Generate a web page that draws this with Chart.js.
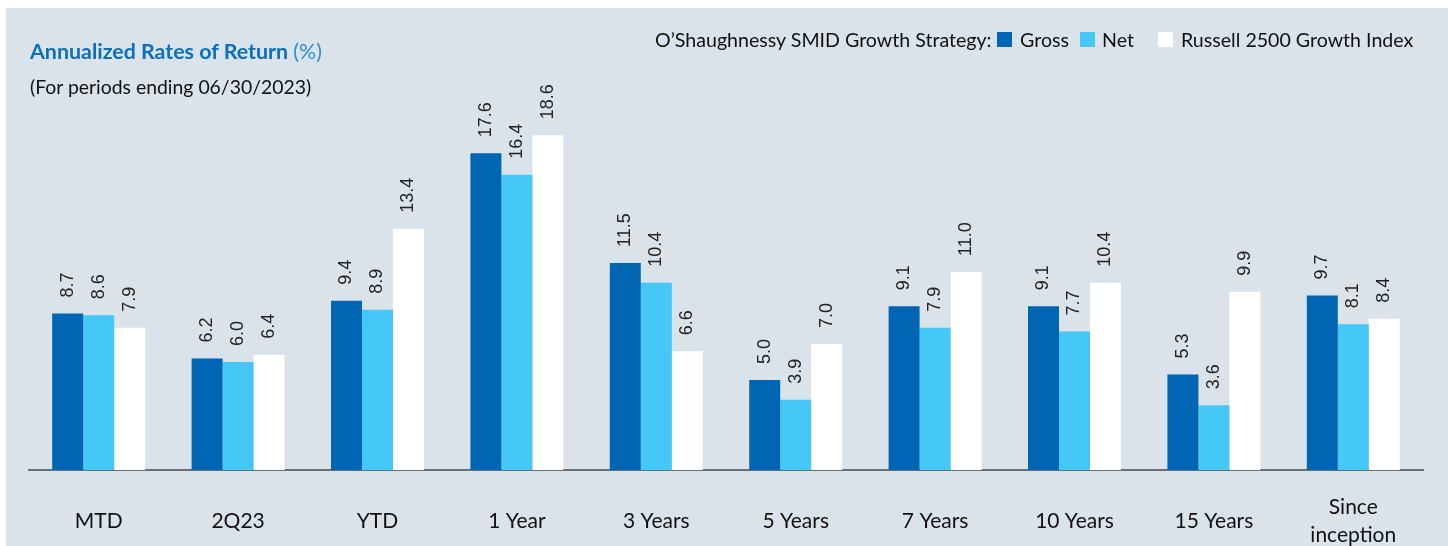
<!DOCTYPE html>
<html>
<head>
<meta charset="utf-8">
<script src="https://cdn.jsdelivr.net/npm/chart.js@4"></script>
<style>
  html, body { margin: 0; padding: 0; background: #fff; }
  body { width: 1448px; height: 546px; overflow: hidden; position: relative; font-family: Lato, "Noto Sans", sans-serif; }
  #panel { position: absolute; left: 6px; top: 8px; right: 0; bottom: 0; background: #dae2ea; }
  #chart { position: absolute; left: 0; top: 0; }
  .txt { position: absolute; white-space: nowrap; line-height: 24px; height: 24px; color: #111; }
  .title { left: 30px; top: 39px; font-size: 21.4px; font-weight: bold; color: #0a6fbf; }
  .title span { font-weight: normal; color: #2a8fd6; }
  .sub { left: 30px; top: 75px; font-size: 19.4px; }
  .leg { top: 28px; font-size: 19.6px; }
  .sw { position: absolute; top: 32px; width: 15px; height: 15px; }
</style>
</head>
<body>
<div id="panel"></div>
<canvas id="chart" width="1448" height="546"></canvas>
<div class="txt title">Annualized Rates of Return <span>(%)</span></div>
<div class="txt sub">(For periods ending 06/30/2023)</div>
<div class="txt leg" style="left:655px">O’Shaughnessy SMID Growth Strategy:</div>
<div class="sw" style="left:997px; background:#0066b3"></div>
<div class="txt leg" style="left:1020px">Gross</div>
<div class="sw" style="left:1080px; background:#45c8f5"></div>
<div class="txt leg" style="left:1102px">Net</div>
<div class="sw" style="left:1158px; background:#ffffff"></div>
<div class="txt leg" style="left:1181px">Russell 2500 Growth Index</div>
<script>
(function() {
  'use strict';

  // periods on the x axis
  const periods = [['MTD'], ['2Q23'], ['YTD'], ['1 Year'], ['3 Years'], ['5 Years'],
    ['7 Years'], ['10 Years'], ['15 Years'], ['Since', 'inception']];

  // returns in %
  const grossValues = [8.7, 6.2, 9.4, 17.6, 11.5, 5.0, 9.1, 9.1, 5.3, 9.7];
  const netValues = [8.6, 6.0, 8.9, 16.4, 10.4, 3.9, 7.9, 7.7, 3.6, 8.1];
  const indexValues = [7.9, 6.4, 13.4, 18.6, 6.6, 7.0, 11.0, 10.4, 9.9, 8.4];

  // value labels, rotated, above each bar
  const barLabels = {
    id: 'barLabels',
    afterDatasetsDraw(chart) {
      const ctx = chart.ctx;
      ctx.save();
      ctx.font = '18px "Liberation Sans", Arial, sans-serif';
      ctx.fillStyle = '#222';
      ctx.textAlign = 'left';
      ctx.textBaseline = 'middle';
      chart.data.datasets.forEach((ds, di) => {
        const meta = chart.getDatasetMeta(di);
        meta.data.forEach((bar, i) => {
          ctx.save();
          ctx.translate(bar.x, bar.y - 16);
          ctx.rotate(-Math.PI / 2);
          ctx.fillText(ds.data[i].toFixed(1), 0, 0);
          ctx.restore();
        });
      });
      ctx.restore();
    }
  };

  // category names under the axis, centred vertically on one line
  const categoryLabels = {
    id: 'categoryLabels',
    afterDraw(chart) {
      const ctx = chart.ctx;
      const xs = chart.scales.x;
      const lineH = 28;
      ctx.save();
      ctx.font = '21px Lato, "Noto Sans", sans-serif';
      ctx.fillStyle = '#111';
      ctx.textAlign = 'center';
      ctx.textBaseline = 'middle';
      periods.forEach((lines, i) => {
        const x = xs.getPixelForValue(i);
        const y0 = 521 - (lines.length - 1) * lineH / 2;
        lines.forEach((t, j) => ctx.fillText(t, x, y0 + j * lineH));
      });
      ctx.restore();
    }
  };

  new Chart(document.getElementById('chart'), {
    type: 'bar',
    data: {
      labels: periods.map(p => p.join(' ')),
      datasets: [
        { label: 'Gross', data: grossValues, backgroundColor: '#0066b3' },
        { label: 'Net', data: netValues, backgroundColor: '#45c8f5' },
        { label: 'Russell 2500 Growth Index', data: indexValues, backgroundColor: '#ffffff' }
      ]
    },
    options: {
      responsive: false,
      animation: false,
      devicePixelRatio: 1,
      layout: { padding: { left: 29, right: 25, top: 110, bottom: 0 } },
      datasets: { bar: { categoryPercentage: 0.667, barPercentage: 1, borderWidth: 0 } },
      plugins: { legend: { display: false }, tooltip: { enabled: false } },
      scales: {
        x: {
          grid: { display: false },
          border: { display: true, color: '#6e6e6e', width: 2 },
          ticks: { display: false },
          afterFit(scale) { scale.height = 76; }
        },
        y: {
          display: false,
          min: 0,
          max: 20
        }
      }
    },
    plugins: [barLabels, categoryLabels]
  });
})();
</script>
</body>
</html>
